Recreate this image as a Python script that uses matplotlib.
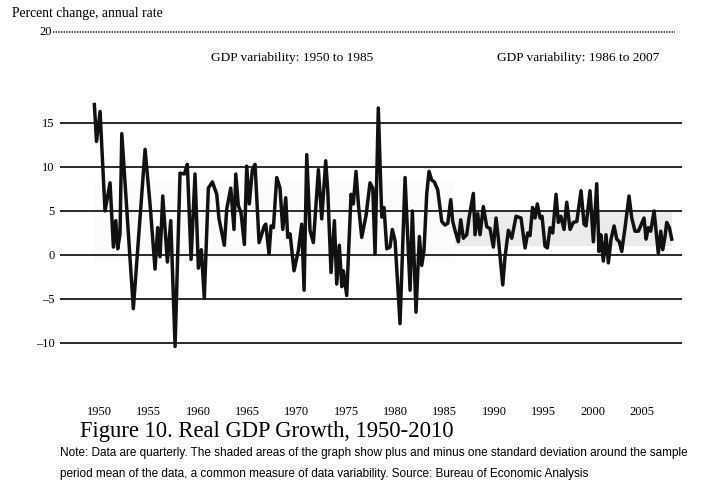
import matplotlib
matplotlib.use('Agg')
import matplotlib.pyplot as plt
import numpy as np

# quarterly real GDP growth (percent, annual rate)
years = [1950.00, 1950.22, 1950.58, 1951.08, 1951.59, 1951.93, 1952.17, 1952.37, 1952.60, 1952.78,
         1953.95, 1955.14, 1955.64, 1956.15, 1956.42, 1956.66, 1956.93, 1957.40, 1957.74, 1958.18,
         1958.68, 1959.12, 1959.42, 1959.80, 1960.20, 1960.54, 1960.84, 1961.14, 1961.55, 1961.96,
         1962.40, 1962.63, 1963.17, 1963.41, 1963.82, 1964.15, 1964.33, 1964.59, 1964.86, 1965.20,
         1965.44, 1965.70, 1966.01, 1966.28, 1966.69, 1967.22, 1967.37, 1967.70, 1967.90, 1968.14,
         1968.48, 1968.81, 1969.09, 1969.39, 1969.59, 1969.83, 1970.23, 1970.67, 1971.01, 1971.25,
         1971.52, 1971.85, 1972.19, 1972.70, 1973.04, 1973.44, 1973.65, 1973.98, 1974.32, 1974.56,
         1974.82, 1975.07, 1975.23, 1975.57, 1976.01, 1976.24, 1976.51, 1976.75, 1977.09, 1977.53,
         1977.93, 1978.21, 1978.44, 1978.77, 1979.12, 1979.35, 1979.63, 1979.96, 1980.19, 1980.47,
         1980.97, 1981.48, 1981.99, 1982.22, 1982.59, 1982.93, 1983.17, 1983.40, 1983.68, 1983.91,
         1984.18, 1984.45, 1984.79, 1985.20, 1985.53, 1985.81, 1986.11, 1986.31, 1986.54, 1986.88,
         1987.12, 1987.39, 1987.73, 1987.96, 1988.40, 1988.57, 1988.84, 1989.08, 1989.41, 1989.76,
         1990.09, 1990.43, 1990.70, 1990.93, 1991.38, 1991.61, 1991.95, 1992.29, 1992.73, 1993.23,
         1993.64, 1993.91, 1994.14, 1994.40, 1994.65, 1994.88, 1995.16, 1995.36, 1995.66, 1995.90,
         1996.17, 1996.44, 1996.78, 1997.01, 1997.26, 1997.59, 1997.86, 1998.20, 1998.53, 1998.88,
         1999.31, 1999.62, 1999.82, 2000.22, 2000.56, 2000.90, 2001.13, 2001.31, 2001.57, 2001.84,
         2002.08, 2002.35, 2002.66, 2002.93, 2003.19, 2003.43, 2003.77, 2004.17, 2004.45, 2004.78,
         2005.12, 2005.69, 2005.90, 2006.13, 2006.37, 2006.71, 2007.14, 2007.39, 2007.59, 2007.82,
         2007.99, 2008.26, 2008.50]
growth = [17.1, 12.9, 16.3, 5.0, 8.2, 0.9, 3.9, 0.7, 2.4, 13.8,
          -6.1, 12.0, 5.8, -1.6, 3.1, -0.2, 6.7, -0.8, 3.9, -10.4,
          9.3, 9.2, 10.3, -0.5, 9.2, -1.5, 0.6, -4.9, 7.6, 8.3,
          6.9, 4.1, 1.1, 5.2, 7.6, 2.9, 9.2, 5.6, 4.8, 1.2,
          10.1, 5.8, 9.7, 10.3, 1.4, 3.3, 3.5, 0.1, 3.3, 3.1,
          8.8, 7.6, 2.9, 6.5, 2.0, 2.4, -1.8, 0.5, 3.5, -4.0,
          11.4, 2.8, 1.4, 9.7, 4.1, 10.7, 7.3, -2.0, 3.9, -3.3,
          1.1, -3.6, -1.8, -4.6, 6.9, 5.8, 9.5, 5.8, 2.0, 4.5,
          8.2, 7.6, 0.1, 16.7, 4.3, 5.4, 0.7, 0.9, 2.9, 1.6,
          -7.8, 8.8, -4.0, 5.0, -6.5, 2.1, -1.2, 0.5, 7.0, 9.5,
          8.5, 8.3, 7.4, 3.8, 3.4, 3.6, 6.3, 3.8, 2.8, 1.5,
          4.0, 1.9, 2.3, 4.2, 7.0, 2.3, 4.7, 2.3, 5.5, 3.2,
          3.0, 0.9, 4.2, 1.9, -3.4, -0.2, 2.8, 1.9, 4.4, 4.2,
          0.8, 2.5, 2.2, 5.4, 4.2, 5.8, 4.2, 4.4, 1.0, 0.8,
          3.1, 2.5, 6.9, 3.7, 4.4, 2.9, 6.0, 2.9, 3.7, 3.8,
          7.3, 3.5, 3.3, 7.3, 1.5, 8.1, 0.4, 2.3, -0.7, 2.3,
          -0.9, 1.8, 3.3, 1.8, 1.5, 0.4, 3.1, 6.7, 4.2, 2.7,
          2.7, 4.2, 1.8, 3.1, 2.7, 5.0, 0.2, 2.7, 0.6, 2.1,
          3.7, 3.1, 1.8]

# mean +/- one standard deviation bands for the two periods
band_periods = [(1950.0, 1986.5), (1986.5, 2008.5)]
band_low = [-0.8, 1.0]
band_high = [8.5, 5.0]
band_colors = ['#fbfbfb', '#ebebeb']

grid_values = [-10, -5, 0, 5, 10, 15]
tick_years = [1950, 1955, 1960, 1965, 1970, 1975, 1980, 1985, 1990, 1995, 2000, 2005]

W, H = 714, 504
fig = plt.figure(figsize=(W / 100, H / 100), dpi=100)
ax = fig.add_axes([60 / W, 1 - 350 / H, (682 - 60) / W, (350 - 32) / H])

x_left, x_right = 1946.52, 2009.54
y_bottom, y_top = -10.8, 25.34
ax.set_xlim(x_left, x_right)
ax.set_ylim(y_bottom, y_top)
for s in ax.spines.values():
    s.set_visible(False)

serif = 'Liberation Serif'

for (x0, x1), lo, hi, c in zip(band_periods, band_low, band_high, band_colors):
    ax.fill_between([x0, x1], lo, hi, color=c, lw=0, zorder=1)

for v in grid_values:
    ax.axhline(v, color='#2a2a2a', lw=1.4, zorder=2)

# dotted top line standing for the 20 level
ax.plot([1945.82, 2008.8], [y_top, y_top], color='#222222', lw=1.2,
        ls=(0, (0.8, 0.8)), clip_on=False, zorder=2)
ax.text(1945.7, y_top, '20', ha='right', va='center', family=serif,
        fontsize=9, clip_on=False)

ax.plot(years, growth, color='#111111', lw=2.5, solid_joinstyle='round', zorder=3)

ax.set_yticks(grid_values)
ax.set_yticklabels([str(v).replace('-', '\u2013') for v in grid_values],
                   family=serif, fontsize=9)
ax.set_xticks([y + 0.5 for y in tick_years])
ax.set_xticklabels([str(y) for y in tick_years], family=serif, fontsize=9)
ax.tick_params(axis='y', length=0, pad=4)
ax.tick_params(axis='x', length=0, pad=40)

fig.text(12 / W, 1 - 14 / H, 'Percent change, annual rate', family=serif,
         fontsize=9.8, ha='left', va='center')
fig.text(292 / W, 1 - 58 / H, 'GDP variability: 1950 to 1985', family=serif,
         fontsize=9.6, ha='center', va='center')
fig.text(578 / W, 1 - 58 / H, 'GDP variability: 1986 to 2007', family=serif,
         fontsize=9.6, ha='center', va='center')
fig.text(80 / W, 1 - 432 / H, 'Figure 10. Real GDP Growth, 1950-2010', family=serif,
         fontsize=16.3, ha='left', va='center')

note_font = dict(family=['Liberation Sans', 'DejaVu Sans'],
                 fontsize=8.5, ha='left', va='center')
fig.text(60 / W, 1 - 453 / H,
         'Note: Data are quarterly. The shaded areas of the graph show plus and minus one '
         'standard deviation around the sample', **note_font)
fig.text(60 / W, 1 - 474 / H,
         'period mean of the data, a common measure of data variability. '
         'Source: Bureau of Economic Analysis', **note_font)

fig.savefig('out.png', dpi=100)
